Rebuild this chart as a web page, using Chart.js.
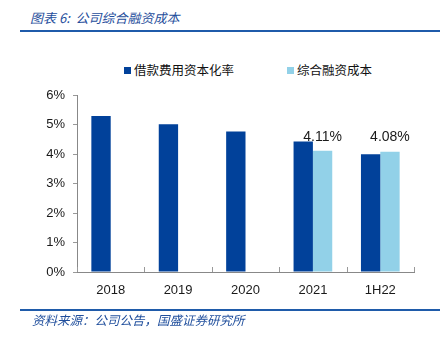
<!DOCTYPE html>
<html>
<head>
<meta charset="utf-8">
<script src="https://cdn.jsdelivr.net/npm/chart.js@4"></script>
<style>
  html, body { margin: 0; padding: 0; background: #fff; }
  #wrap { position: relative; width: 440px; height: 340px; overflow: hidden; background: #fff; }
  #c { position: absolute; left: 0; top: 0; }
  .title { position: absolute; left: 30px; top: 8px; font: italic 13px "Noto Sans CJK SC", sans-serif; color: #1F4E9C; white-space: nowrap; }
  .rule { position: absolute; left: 20px; width: 420px; height: 2px; background: #1F5BAA; }
  .src { position: absolute; left: 32px; top: 310px; font: italic 12.5px "Noto Sans CJK SC", sans-serif; color: #1F4E9C; white-space: nowrap; }
  .leg { position: absolute; top: 60px; font: 12.5px "Noto Sans CJK SC", sans-serif; color: #111; white-space: nowrap; }
  .leg i { display: inline-block; width: 7px; height: 7px; margin-right: 3px; vertical-align: 1px; }
</style>
</head>
<body>
<div id="wrap">
  <div class="title">图表 6:&nbsp; 公司综合融资成本</div>
  <div class="rule" style="top:30px"></div>
  <div class="leg" style="left:124px"><i style="background:#01419A"></i>借款费用资本化率</div>
  <div class="leg" style="left:287px"><i style="background:#92D1E8"></i>综合融资成本</div>
  <canvas id="c" width="440" height="340"></canvas>
  <div class="rule" style="top:309px"></div>
  <div class="src">资料来源：公司公告，国盛证券研究所</div>
</div>
<script>
const categories = ["2018", "2019", "2020", "2021", "1H22"];
const capitalizationRate = [5.29, 5.01, 4.76, 4.42, 3.99];
const financingCost = [null, null, null, 4.11, 4.08];
const yTicks = [0, 1, 2, 3, 4, 5, 6];
const seriesNames = ["借款费用资本化率", "综合融资成本"];

const innerTicks = {
  id: 'innerTicks',
  afterDraw(chart) {
    const x = chart.scales.x, ctx = chart.ctx;
    const step = (x.right - x.left) / categories.length;
    ctx.save();
    ctx.strokeStyle = '#999';
    ctx.lineWidth = 1;
    for (let i = 0; i <= categories.length; i++) {
      const px = Math.round(x.left + i * step) + 0.5;
      ctx.beginPath();
      ctx.moveTo(px, x.top);
      ctx.lineTo(px, x.top - 5);
      ctx.stroke();
    }
    ctx.restore();
  }
};

const valueLabels = {
  id: 'valueLabels',
  afterDatasetsDraw(chart) {
    const ctx = chart.ctx;
    const meta = chart.getDatasetMeta(1);
    ctx.save();
    ctx.font = '14px "Liberation Sans", sans-serif';
    ctx.fillStyle = '#1a1a1a';
    ctx.textAlign = 'center';
    ctx.textBaseline = 'middle';
    meta.data.forEach((bar, i) => {
      const v = financingCost[i];
      if (v == null) return;
      ctx.fillText(v.toFixed(2) + '%', bar.x, bar.y - 14);
    });
    ctx.restore();
  }
};

new Chart(document.getElementById('c'), {
  type: 'bar',
  data: {
    labels: categories,
    datasets: [
      { label: seriesNames[0], data: capitalizationRate, backgroundColor: '#01419A' },
      { label: seriesNames[1], data: financingCost, backgroundColor: '#92D1E8' }
    ]
  },
  options: {
    responsive: false,
    animation: false,
    devicePixelRatio: 1,
    layout: { padding: { left: 0, right: 26, top: 95, bottom: 0 } },
    plugins: { legend: { display: false }, tooltip: { enabled: false } },
    datasets: { bar: { categoryPercentage: 0.574, barPercentage: 1.0 } },
    scales: {
      x: {
        grid: { display: false },
        border: { display: true, color: '#888', width: 1 },
        ticks: { font: { family: 'Liberation Sans', size: 13 }, color: '#1a1a1a', padding: 3, maxRotation: 0 },
        afterFit(s) { s.height = 68; }
      },
      y: {
        min: 0, max: 6,
        afterBuildTicks(s) { s.ticks = yTicks.map(v => ({ value: v })); },
        grid: { display: true, drawOnChartArea: false, drawTicks: true, tickLength: 4, color: '#999' },
        border: { display: true, color: '#888', width: 1 },
        ticks: { font: { family: 'Liberation Sans', size: 13 }, color: '#1a1a1a', padding: 8, callback: v => v + '%' },
        afterFit(s) { s.width = 77; }
      }
    }
  },
  plugins: [innerTicks, valueLabels]
});
</script>
</body>
</html>
